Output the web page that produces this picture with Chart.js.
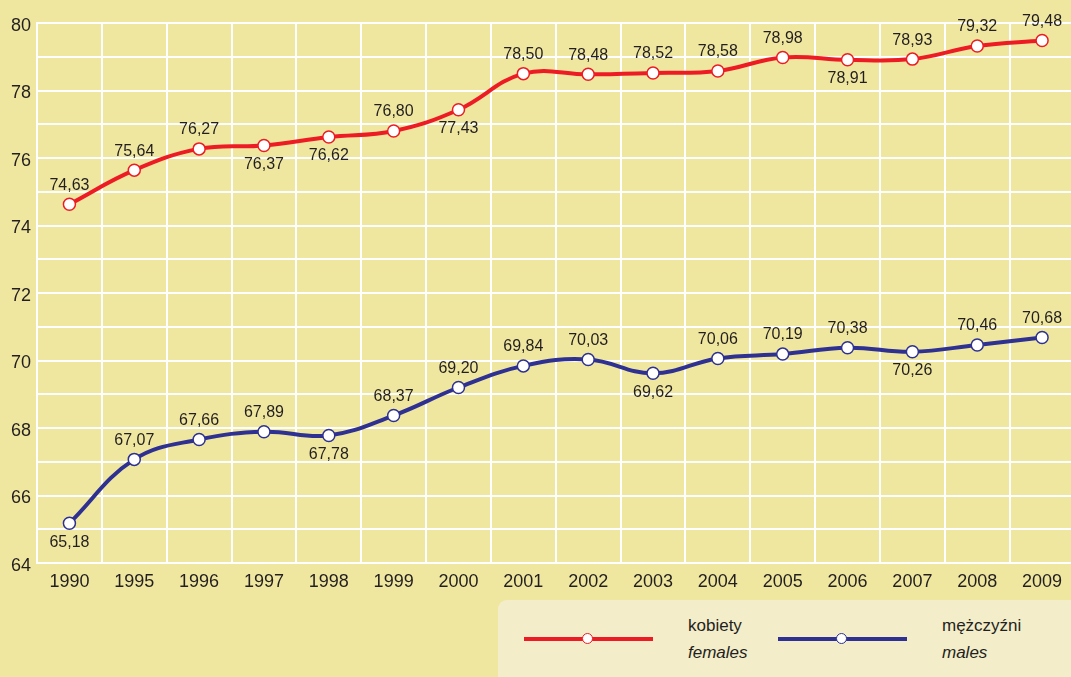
<!DOCTYPE html>
<html>
<head>
<meta charset="utf-8">
<script src="https://cdn.jsdelivr.net/npm/chart.js@4"></script>
<style>
  html, body { margin: 0; padding: 0; background: #efe7a0; overflow: hidden; }
  #wrap { position: relative; width: 1082px; height: 677px; }
  #legend {
    position: absolute; left: 498px; top: 600px; width: 600px; height: 100px;
    background: #f4edca; border-radius: 9px;
    font-family: "Liberation Sans", Arial, sans-serif; font-size: 17px; color: #231f20;
  }
  .line { position: absolute; top: 37px; width: 129px; height: 4px; }
  .dot { position: absolute; top: 33px; width: 9px; height: 9px; border-radius: 50%; background: #fff; border: 1.5px solid; }
  .txt { position: absolute; top: 12px; line-height: 27px; white-space: nowrap; }
  .txt i { display: block; }
</style>
</head>
<body>
<div id="wrap">
  <canvas id="chart" width="1082" height="677"></canvas>
  <div id="legend">
    <div class="line" style="left:26px;background:#ed1c24"></div>
    <div class="dot" style="left:84px;border-color:#ed1c24"></div>
    <div class="txt" style="left:190px">kobiety<i>females</i></div>
    <div class="line" style="left:280px;background:#2e3192"></div>
    <div class="dot" style="left:338px;border-color:#2e3192"></div>
    <div class="txt" style="left:444px">mężczyźni<i>males</i></div>
  </div>
</div>
<script>
const years = ["1990", "1995", "1996", "1997", "1998", "1999", "2000", "2001",
    "2002", "2003", "2004", "2005", "2006", "2007", "2008", "2009"];

const females = [74.63, 75.64, 76.27, 76.37, 76.62, 76.80, 77.43, 78.50,
    78.48, 78.52, 78.58, 78.98, 78.91, 78.93, 79.32, 79.48];

const males = [65.18, 67.07, 67.66, 67.89, 67.78, 68.37, 69.20, 69.84,
    70.03, 69.62, 70.06, 70.19, 70.38, 70.26, 70.46, 70.68];

// 1 = label above the point, -1 = below
const femalesSide = [1, 1, 1, -1, -1, 1, -1, 1, 1, 1, 1, 1, -1, 1, 1, 1];
const malesSide = [-1, 1, 1, 1, -1, 1, 1, 1, 1, -1, 1, 1, 1, -1, 1, 1];

const font = "'Liberation Sans', Arial, sans-serif";

const valueLabels = {
    id: "valueLabels",
    afterDatasetsDraw(chart) {
        const c = chart.ctx;
        c.save();
        c.font = "16px " + font;
        c.fillStyle = "#231f20";
        c.textAlign = "center";
        c.textBaseline = "middle";
        chart.data.datasets.forEach((ds, i) => {
            const sides = i === 0 ? femalesSide : malesSide;
            chart.getDatasetMeta(i).data.forEach((pt, j) => {
                const txt = ds.data[j].toFixed(2).replace(".", ",");
                c.fillText(txt, pt.x, pt.y - 19 * sides[j]);
            });
        });
        c.restore();
    },
};

const ctx = document.getElementById("chart");

let chart = new Chart(ctx, {
    type: "line",
    data: {
        labels: years,
        datasets: [
            {
                label: "kobiety",
                data: females,
                borderColor: "#ed1c24",
                borderWidth: 4,
                tension: 0.4,
                pointRadius: 6,
                pointBorderWidth: 1.5,
                pointBackgroundColor: "#ffffff",
                pointBorderColor: "#ed1c24",
            },
            {
                label: "mężczyźni",
                data: males,
                borderColor: "#2e3192",
                borderWidth: 4,
                tension: 0.4,
                pointRadius: 6,
                pointBorderWidth: 1.5,
                pointBackgroundColor: "#ffffff",
                pointBorderColor: "#2e3192",
            },
        ],
    },
    options: {
        responsive: false,
        animation: false,
        layout: {
            padding: { top: 23, right: 0, left: 0, bottom: 0 },
        },
        scales: {
            x: {
                offset: true,
                grid: { color: "#ffffff", lineWidth: 2, offset: true, drawTicks: false },
                border: { color: "#ffffff", width: 2 },
                ticks: { color: "#231f20", font: { family: font, size: 18 }, padding: 8 },
                afterFit(scale) { scale.height = 114; },
            },
            y: {
                min: 64,
                max: 80,
                grid: { color: "#ffffff", lineWidth: 2, drawTicks: false },
                border: { color: "#ffffff", width: 2 },
                ticks: {
                    stepSize: 1,
                    color: "#231f20",
                    font: { family: font, size: 18 },
                    padding: 6,
                    labelOffset: 3,
                    callback: (v) => (v % 2 === 0 ? v : ""),
                },
                afterFit(scale) { scale.width = 37; },
            },
        },
        plugins: {
            legend: { display: false },
            tooltip: { enabled: false },
        },
    },
    plugins: [valueLabels],
});
</script>
</body>
</html>
